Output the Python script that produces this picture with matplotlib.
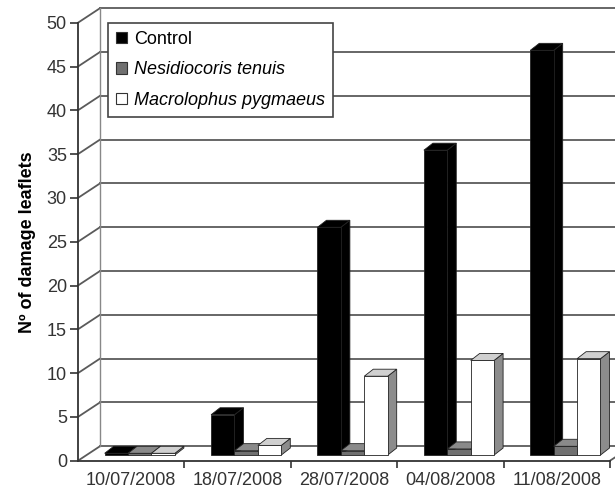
import matplotlib.pyplot as plt
from matplotlib.patches import Polygon, Patch

dates = ['10/07/2008', '18/07/2008', '28/07/2008', '04/08/2008', '11/08/2008']
series = ['Control', 'Nesidiocoris tenuis', 'Macrolophus pygmaeus']
control = [0.2, 4.6, 26.0, 34.8, 46.2]
nesidiocoris = [0.2, 0.5, 0.5, 0.7, 1.0]
macrolophus = [0.2, 1.1, 9.0, 10.8, 11.0]

plt.rcParams['font.family'] = ['Liberation Sans', 'DejaVu Sans']

W, H = 615, 492
fig = plt.figure(figsize=(W / 100, H / 100), dpi=100)
# front frame of the pseudo-3d box, in pixels
x_left, x_right, y_zero, y_top = 78, 610, 460.7, 22.7
ax = fig.add_axes([x_left / W, 1 - y_zero / H, (x_right - x_left) / W, (y_zero - y_top) / H])
ax.set_xlim(0, len(dates))
ax.set_ylim(0, 50)

# depth of the box (wall offset) and of the bars, in data units
DX, DY = 22 / 106.4, 14.5 / 8.76
BDX, BDY = 9 / 106.4, 0.8
t = 0.39  # where the bars sit in the floor depth
wall_col = '#5a5a5a'

# back wall gridlines + connectors on the left wall
for v in range(0, 55, 5):
    ax.plot([DX, len(dates) + 0.5], [v + DY, v + DY], color=wall_col, lw=1.3, clip_on=False, zorder=1)
    ax.plot([0, DX], [v, v + DY], color=wall_col, lw=1.3, clip_on=False, zorder=1)
ax.plot([DX, DX], [DY, 50 + DY], color='#888888', lw=1.0, clip_on=False, zorder=1)
ax.plot([len(dates), len(dates) + DX], [0, DY], color=wall_col, lw=1.3, clip_on=False, zorder=1)


def bar3d(x0, w, h, front, top, side):
    bx, by = x0 + t * DX, t * DY
    faces = [
        ([(bx + w, by), (bx + w + BDX, by + BDY), (bx + w + BDX, by + h + BDY), (bx + w, by + h)], side),
        ([(bx, by + h), (bx + w, by + h), (bx + w + BDX, by + h + BDY), (bx + BDX, by + h + BDY)], top),
        ([(bx, by), (bx + w, by), (bx + w, by + h), (bx, by + h)], front),
    ]
    for pts, fc in faces:
        ax.add_patch(Polygon(pts, closed=True, facecolor=fc, edgecolor='#222222',
                             lw=0.6, clip_on=False, zorder=3))


bw = 0.22
styles = [('#000000', '#000000', '#000000'),
          ('#707070', '#8a8a8a', '#4a4a4a'),
          ('#ffffff', '#d0d0d0', '#8c8c8c')]
for i in range(len(dates)):
    for j, vals in enumerate([control, nesidiocoris, macrolophus]):
        x0 = i + 0.5 - 1.5 * bw + j * bw
        bar3d(x0, bw, vals[i], *styles[j])

# axes
for s in ['top', 'right']:
    ax.spines[s].set_visible(False)
ax.spines['left'].set_color('#333333')
ax.spines['bottom'].set_color('#333333')
ax.spines['left'].set_linewidth(1.3)
ax.spines['bottom'].set_linewidth(1.3)
ax.set_yticks(range(0, 55, 5))
ax.tick_params(axis='y', direction='out', length=6, width=1.2, color='#333333',
               labelsize=13, labelcolor='#333333', pad=2)
ax.set_xticks([i + 0.5 for i in range(len(dates))])
ax.set_xticklabels(dates)
ax.set_xticks(range(1, len(dates) + 1), minor=True)
ax.tick_params(axis='x', which='major', length=0, labelsize=13, labelcolor='#333333', pad=8)
ax.tick_params(axis='x', which='minor', direction='out', length=5, width=1.2, color='#333333')
ax.set_ylabel('Nº of damage leaflets', fontsize=13, fontweight='bold', labelpad=8)

handles = [Patch(facecolor=styles[j][0], edgecolor='#333333', lw=0.8) for j in range(3)]
leg = ax.legend(handles, series, loc='upper left', bbox_to_anchor=(0.056, 1.0),
                borderaxespad=0, fancybox=False, framealpha=1, edgecolor='#444444',
                fontsize=13, handlelength=0.6, handleheight=0.6, handletextpad=0.4,
                labelspacing=0.75, borderpad=0.45)
leg.get_frame().set_linewidth(1.2)
leg.set_zorder(5)
for txt in leg.get_texts()[1:]:
    txt.set_fontstyle('italic')

fig.savefig('out.png', dpi=100)
